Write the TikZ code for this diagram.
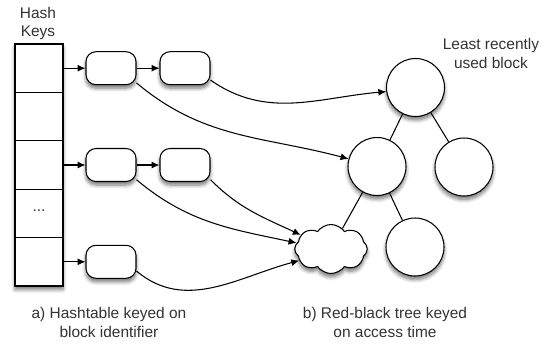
\documentclass[tikz,border=0pt]{standalone}
\usepackage{fontspec}
\setmainfont{Liberation Sans}
\usetikzlibrary{shapes.symbols,shadows.blur,arrows.meta}

\tikzset{
	shade/.style={blur shadow={shadow xshift=0pt,shadow yshift=-0.07cm,shadow blur steps=6,shadow opacity=55}},
	hashcell/.style={draw,semithick,minimum width=0.96cm,minimum height=0.968cm,inner sep=0pt},
	listbox/.style={draw,semithick,fill=white,rounded corners=0.2cm,minimum width=1cm,minimum height=0.66cm},
	treenode/.style={draw,semithick,fill=white,circle,minimum size=1.16cm,inner sep=0pt},
	link/.style={->,>={Latex[length=4.5pt,width=4pt]},semithick},
}

\begin{document}
\begin{tikzpicture}[font=\fontsize{8.8}{10.8}\selectfont,text=black!80]
	\useasboundingbox (0,0) rectangle (10.98,6.86);

	%hash table
	\node[draw,semithick,fill=white,shade,minimum width=0.96cm,minimum height=4.84cm,inner sep=0pt] (table) at (0.78,3.56) {};
	\foreach \i in {1,...,5}
		\node[hashcell] (cell\i) at (0.78,{5.496-0.968*(\i-1)}) {};
	\node (dots) at (0.78,2.64) {...};
	\node[align=center] (keys) at (0.76,6.39) {Hash\\Keys};

	%chained entries
	\node[listbox,shade] (b11) at (2.22,5.496) {};
	\node[listbox,shade] (b12) at (3.70,5.496) {};
	\node[listbox,shade] (b21) at (2.22,3.56) {};
	\node[listbox,shade] (b22) at (3.70,3.56) {};
	\node[listbox,shade] (b31) at (2.22,1.624) {};
	\draw[link] (cell1.east) -- (b11.west);
	\draw[link] (b11.east) -- (b12.west);
	\draw[link] (cell3.east) -- (b21.west);
	\draw[link] (b21.east) -- (b22.west);
	\draw[link] (cell5.east) -- (b31.west);

	%tree
	\node[treenode,shade] (root) at (8.31,5.11) {};
	\node[treenode,shade] (mid) at (7.54,3.53) {};
	\node[treenode,shade] (right) at (9.28,3.52) {};
	\node[treenode,shade] (low) at (8.30,1.92) {};
	\node[cloud,draw,semithick,fill=white,shade,cloud puffs=8,cloud puff arc=110,aspect=1.5,minimum width=1.45cm,minimum height=0.98cm,inner sep=0pt] (nil) at (6.62,1.88) {};
	\draw[semithick] (root) -- (mid);
	\draw[semithick] (root) -- (right);
	\draw[semithick] (mid) -- (nil);
	\draw[semithick] (mid) -- (low);
		\node[align=center] (lru) at (9.82,5.80) {Least recently\\used block};

	%entries into tree
	\draw[link] (b12.-25) to[out=-35,in=185] (root.188);
	\draw[link] (b11.-30) to[out=-40,in=165] (mid.165);
	\draw[link] (b22.-30) to[out=-45,in=155] (nil.155);
	\draw[link] (b21.-30) to[out=-40,in=168] (nil.170);
	\draw[link] (b31.-20) to[out=-40,in=195] (nil.200);

	%captions
	\node[align=center] (capa) at (2.18,0.41) {a) Hashtable keyed on\\block identifier};
	\node[align=center] (capb) at (7.70,0.41) {b) Red-black tree keyed\\on access time};
\end{tikzpicture}
\end{document}
